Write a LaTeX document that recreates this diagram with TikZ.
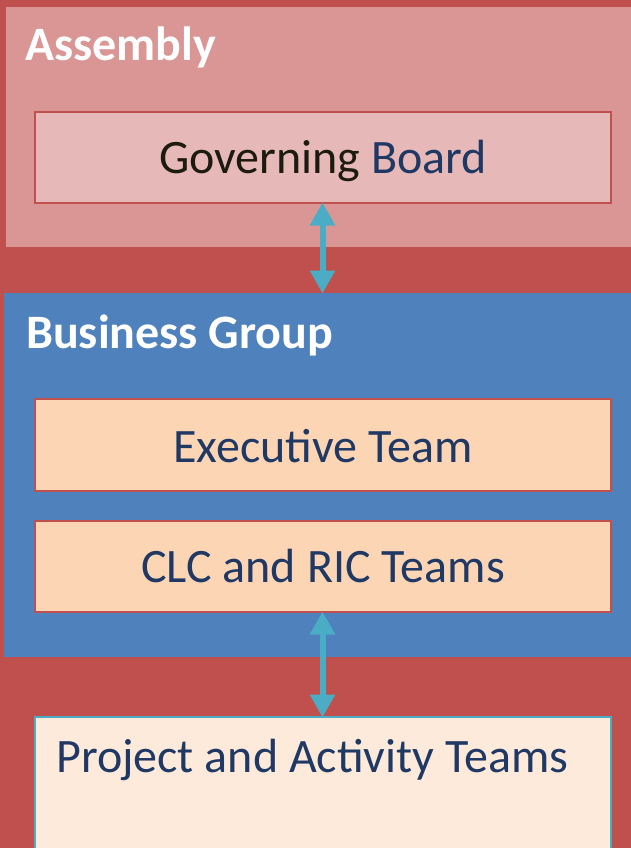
\documentclass[tikz,border=0pt]{standalone}
\usepackage{fontspec}
\setmainfont{Carlito}
\usetikzlibrary{arrows.meta}
\definecolor{bgred}{HTML}{C0504D}
\definecolor{asmfill}{HTML}{D99694}
\definecolor{gbfill}{HTML}{E6B9B8}
\definecolor{bgblue}{HTML}{4F81BD}
\definecolor{teamfill}{HTML}{FCD5B5}
\definecolor{projfill}{HTML}{FDEADA}
\definecolor{arrowc}{HTML}{4BACC6}
\definecolor{darkblue}{HTML}{1F3864}
\definecolor{darktext}{HTML}{1D1B10}
\tikzset{
  panel/.style={inner sep=0pt, outer sep=0pt, anchor=north west},
  innerbox/.style={draw=bgred, line width=1.5pt, inner sep=0pt, outer sep=0pt, anchor=north west},
  boxtext/.style={font=\fontsize{48}{52}\selectfont, text=darkblue},
  headtext/.style={font=\fontsize{48}{52}\selectfont\bfseries, text=white, anchor=base west, inner sep=0pt},
  link/.style={draw=arrowc, line width=6pt, {Triangle[width=24pt,length=23pt]}-{Triangle[width=24pt,length=23pt]}, shorten <=-0.5pt, shorten >=-0.5pt}
}
\begin{document}
\begin{tikzpicture}[x=1pt,y=-1pt]
\useasboundingbox (0,0) rectangle (631,848);
\fill[bgred] (0,0) rectangle (631,848);
% Assembly panel
\node[panel, fill=asmfill, minimum width=625pt, minimum height=240pt] (asm) at (6,7) {};
\node[headtext] (asmlabel) at (25,61) {Assembly};
\node[innerbox, fill=gbfill, minimum width=576pt, minimum height=91pt] (gb) at (35,112) {};
\node[boxtext, anchor=base, inner sep=0pt] (gbtext) at (323,173) {\textcolor{darktext}{Governing} Board};
% Business group panel
\node[panel, fill=bgblue, minimum width=627pt, minimum height=364pt] (bg) at (4,293) {};
\node[headtext] (bglabel) at (26,348) {Business Group};
\node[innerbox, fill=teamfill, minimum width=576pt, minimum height=92pt] (exec) at (35,399) {};
\node[boxtext, anchor=base, inner sep=0pt] (exectext) at (323,462) {Executive Team};
\node[innerbox, fill=teamfill, minimum width=576pt, minimum height=91pt] (clc) at (35,521) {};
\node[boxtext, anchor=base, inner sep=0pt] (clctext) at (323,582) {CLC and RIC Teams};
% Project panel
\node[innerbox, draw=arrowc, fill=projfill, minimum width=576pt, minimum height=150pt] (proj) at (35,717) {};
\node[boxtext, anchor=base west, inner sep=0pt] (projtext) at (56,772) {Project and Activity Teams};
% connectors
\draw[link] ([xshift=-0.5pt]gb.south) -- ([xshift=-0.5pt]gb.south |- bg.north);
\draw[link] ([xshift=-0.5pt]clc.south) -- ([xshift=-0.5pt]proj.north);
\end{tikzpicture}
\end{document}
